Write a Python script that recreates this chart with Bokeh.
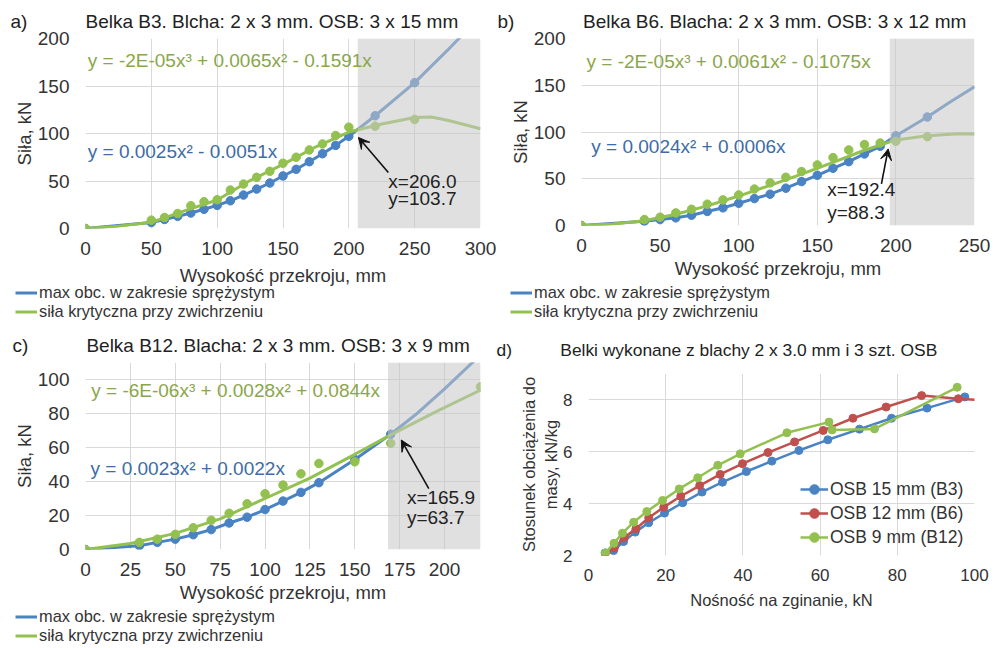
from bokeh.plotting import figure
from bokeh.models import Range1d, Label, Arrow, VeeHead, BoxAnnotation, Legend, LegendItem
from bokeh.layouts import row, column
from bokeh.embed import file_html
from bokeh.resources import INLINE

FONT = "Liberation Sans"
BLUE = "#4a83c4"
GREEN = "#93c150"
RED = "#c0504d"
BLUE_TXT = "#3d6ca6"
GREEN_TXT = "#8aa64a"
TXT = "#333333"
DARK = "#222222"
GRID = "#d9d9d9"
NB = "\u00a0"

LEG_ELASTIC = "max obc. w zakresie sprężystym"
LEG_CRITICAL = "siła krytyczna przy zwichrzeniu"
X_TITLE = "Wysokość przekroju, mm"
Y_TITLE = "Siła, kN"

# ---------------- panel a (B3) ----------------
A_TITLE = "Belka B3. Blcha: 2 x 3 mm. OSB: 3 x 15 mm"
A_H = [0, 50, 60, 70, 80, 90, 100, 110, 120, 130, 140, 150, 160, 170, 180, 190, 200, 220, 250]
A_ELASTIC = [0, 6.3, 9.5, 12.8, 16.3, 20.2, 24.3, 29.2, 35.2, 41.5, 47.9, 55.3, 62.3, 70.3, 78.7, 87.5, 97.0, 118.7, 153.5]
A_CRITICAL = [0, 8.8, 11.6, 15.8, 24.0, 28.2, 30.3, 40.5, 46.8, 53.9, 60.2, 68.7, 75.0, 82.7, 89.0, 97.9, 106.7, 107.7, 114.8]
A_ELASTIC_EXT_H = [250, 275, 300]
A_ELASTIC_EXT = [153.5, 187.7, 223.5]
A_CRITICAL_FIT_H = [0, 25, 50, 75, 100, 125, 150, 175, 200, 225, 250, 262.5, 275, 300]
A_CRITICAL_FIT = [0, 2.5, 6.5, 18.5, 30.0, 50.5, 67.5, 86.0, 101.5, 110.0, 116.8, 117.3, 114.0, 105.0]
A_EQ_CRIT = "y = -2E-05x³ + 0.0065x² - 0.1591x"
A_EQ_ELAS = "y = 0.0025x² - 0.0051x"
A_CROSS = ("x=206.0", "y=103.7")
A_SHADE = 206.8

# ---------------- panel b (B6) ----------------
B_TITLE = "Belka B6. Blacha: 2 x 3 mm. OSB: 3 x 12 mm"
B_H = [0, 40, 50, 60, 70, 80, 90, 100, 110, 120, 130, 140, 150, 160, 170, 180, 190, 200, 220]
B_ELASTIC = [0, 4.6, 6.4, 8.2, 11.0, 15.0, 18.9, 23.8, 28.8, 33.5, 39.9, 47.0, 53.7, 61.2, 68.3, 76.5, 84.7, 96.0, 116.0]
B_CRITICAL = [0, 6.4, 8.9, 13.5, 17.4, 22.8, 27.4, 32.7, 39.0, 45.6, 51.6, 57.7, 64.8, 72.6, 80.8, 86.6, 88.2, 90.0, 95.0]
B_ELASTIC_EXT_H = [220, 235, 250]
B_ELASTIC_EXT = [116.0, 132.6, 148.4]
B_CRITICAL_FIT_H = [0, 20, 40, 60, 80, 100, 120, 140, 160, 180, 200, 220, 240, 250]
B_CRITICAL_FIT = [0, 1.5, 5.0, 12.0, 21.0, 31.5, 43.0, 55.0, 67.5, 80.5, 91.5, 96.0, 98.0, 97.9]
B_EQ_CRIT = "y = -2E-05x³ + 0.0061x² - 0.1075x"
B_EQ_ELAS = "y = 0.0024x² + 0.0006x"
B_CROSS = ("x=192.4", "y=88.3")
B_SHADE = 196.1

# ---------------- panel c (B12) ----------------
C_TITLE = "Belka B12. Blacha: 2 x 3 mm. OSB: 3 x 9 mm"
C_H = [0, 30, 40, 50, 60, 70, 80, 90, 100, 110, 120, 130, 150, 170]
C_ELASTIC = [0, 2.2, 4.2, 6.1, 8.7, 11.7, 15.6, 19.0, 23.5, 28.5, 33.6, 39.3, 53.0, 67.8]
C_CRIT_H = [0, 30, 40, 50, 60, 70, 80, 90, 100, 110, 120, 130, 150, 170, 220]
C_CRITICAL = [0, 4.2, 6.1, 8.9, 12.8, 17.2, 21.3, 26.9, 32.8, 37.9, 44.5, 50.6, 51.6, 62.5, 95.7]
C_ELASTIC_EXT_H = [170, 185, 200, 220]
C_ELASTIC_EXT = [67.8, 80.3, 94.5, 114.5]
C_CRITICAL_FIT_H = [0, 25, 50, 75, 100, 125, 150, 170, 195, 220]
C_CRITICAL_FIT = [0, 3.5, 9.5, 18.0, 30.0, 42.0, 56.0, 67.4, 81.0, 93.8]
C_EQ_CRIT = "y = -6E-06x³ + 0.0028x² + 0.0844x"
C_EQ_ELAS = "y = 0.0023x² + 0.0022x"
C_CROSS = ("x=165.9", "y=63.7")
C_SHADE = 168.5

# ---------------- panel d ----------------
D_TITLE = "Belki wykonane z blachy 2 x 3.0 mm i 3 szt. OSB"
D_X_TITLE = "Nośność na zginanie, kN"
D_Y_TITLE = "Stosunek obciążenia do\nmasy, kN/kg"
D_NAMES = ["OSB 15 mm (B3)", "OSB 12 mm (B6)", "OSB 9 mm (B12)"]
D_B3_X = [4.3, 6.5, 9.1, 12.1, 15.6, 19.7, 24.4, 29.4, 34.7, 40.9, 47.5, 54.5, 62.0, 70.2, 78.5, 87.7, 97.5]
D_B3_Y = [2.10, 2.19, 2.54, 2.90, 3.26, 3.63, 4.03, 4.44, 4.82, 5.23, 5.63, 6.04, 6.45, 6.86, 7.28, 7.67, 8.10]
D_B6_X = [4.3, 6.7, 9.3, 12.3, 15.6, 19.5, 23.9, 28.8, 34.1, 39.9, 46.5, 53.4, 60.8, 68.5, 77.1, 86.3, 95.8, 116.0]
D_B6_Y = [1.94, 2.29, 2.70, 3.03, 3.45, 3.86, 4.28, 4.69, 5.12, 5.53, 5.96, 6.37, 6.81, 7.28, 7.71, 8.15, 8.03, 7.85]
D_B12_X = [4.4, 6.6, 8.8, 11.7, 15.1, 19.2, 23.5, 28.3, 33.5, 39.3, 51.4, 62.3, 63.1, 74.1, 95.5]
D_B12_Y = [2.10, 2.47, 2.86, 3.28, 3.69, 4.12, 4.56, 4.99, 5.47, 5.91, 6.72, 7.13, 6.83, 6.87, 8.47]


def base_fig(width, height, xr, yr, xticks, yticks, borders, tick_size, title_size,
             title_text, title_size_px, title_offset, title_standoff, x_std, x_lab_std):
    l, r, t, b = borders
    p = figure(width=width, height=height, x_range=Range1d(*xr), y_range=Range1d(*yr),
               output_backend="svg", toolbar_location=None, title=title_text,
               min_border_left=l, min_border_right=r, min_border_top=t, min_border_bottom=b,
               background_fill_color="white", border_fill_color="white", outline_line_color=None)
    p.title.text_font = FONT
    p.title.text_font_size = title_size_px
    p.title.text_font_style = "normal"
    p.title.text_color = DARK
    p.title.align = "left"
    p.title.offset = title_offset
    p.title.standoff = title_standoff
    p.xaxis.ticker = xticks
    p.yaxis.ticker = yticks
    for ax in (p.xaxis[0], p.yaxis[0]):
        ax.axis_line_color = None
        ax.major_tick_line_color = None
        ax.minor_tick_line_color = None
        ax.major_tick_out = 0
        ax.major_tick_in = 0
        ax.minor_tick_out = 0
        ax.minor_tick_in = 0
        ax.major_label_text_font = FONT
        ax.major_label_text_font_size = tick_size
        ax.major_label_text_color = TXT
        ax.axis_label_text_font = FONT
        ax.axis_label_text_font_size = title_size
        ax.axis_label_text_font_style = "normal"
        ax.axis_label_text_color = TXT
    p.xaxis.major_label_standoff = x_std
    p.yaxis.major_label_standoff = 16
    p.xaxis.axis_label_standoff = x_lab_std
    p.yaxis.axis_label_standoff = 0
    p.grid.grid_line_color = GRID
    p.grid.grid_line_width = 1
    return p


def text(p, x, y, s, size, color):
    p.add_layout(Label(x=x, y=y, x_units="data", y_units="data", text=s, text_font=FONT,
                       text_font_size=size, text_color=color, text_align="left",
                       text_baseline="middle"))


def beam_panel(width, height, xr, yr, xticks, yticks, borders,
               h, elastic, ext_h, ext, crit_h, crit, fit_h, fit, shade,
               title, title_offset, title_standoff, x_lab_std,
               eq_crit, eq_crit_pos, eq_elas, eq_elas_pos,
               cross, arrow, cross_pos):
    p = base_fig(width, height, xr, yr, xticks, yticks, borders, "19px", "18.5px",
                 title, "19px", title_offset, title_standoff, 13, x_lab_std)
    p.xaxis.axis_label = X_TITLE
    p.yaxis.axis_label = Y_TITLE
    p.line(list(h) + list(ext_h[1:]), list(elastic) + list(ext[1:]), line_color=BLUE, line_width=3)
    p.scatter(h, elastic, size=8.5, color=BLUE)
    p.line(fit_h, fit, line_color=GREEN, line_width=3)
    p.scatter(crit_h, crit, size=8.5, color=GREEN)
    p.add_layout(BoxAnnotation(left=shade, fill_color="#c6c6c6", fill_alpha=0.55, line_color=None))
    text(p, eq_crit_pos[0], eq_crit_pos[1], eq_crit, "19px", GREEN_TXT)
    text(p, eq_elas_pos[0], eq_elas_pos[1], eq_elas, "19px", BLUE_TXT)
    text(p, cross_pos[0], cross_pos[1], cross[0], "19px", DARK)
    text(p, cross_pos[0], cross_pos[2], cross[1], "19px", DARK)
    p.add_layout(Arrow(end=VeeHead(size=11, fill_color="#111111", line_color="#111111", line_width=1),
                       x_start=arrow[0], y_start=arrow[1], x_end=arrow[2], y_end=arrow[3],
                       line_color="#111111", line_width=1.6))
    return p


def legend_fig(width, height, entries, vy, top_margin):
    # entries: list of (x offset, elastic h, elastic values, critical h, critical values)
    f = figure(width=width, height=height, x_range=Range1d(1000, 1001), y_range=Range1d(1000, 1001),
               output_backend="svg", toolbar_location=None, x_axis_type=None, y_axis_type=None,
               min_border=0, min_border_left=0, min_border_right=0, min_border_top=0, min_border_bottom=0,
               outline_line_color=None, background_fill_alpha=0, border_fill_alpha=0,
               margin=(top_margin, 0, 0, 0))
    f.grid.visible = False
    for x0, eh, ev, ch, cv in entries:
        rb = f.line(eh, ev, line_color=BLUE, line_width=3)
        rg = f.line(ch, cv, line_color=GREEN, line_width=3)
        leg = Legend(items=[LegendItem(label=LEG_ELASTIC, renderers=[rb]),
                            LegendItem(label=LEG_CRITICAL, renderers=[rg])],
                     location=(x0, vy), orientation="vertical",
                     label_text_font=FONT, label_text_font_size="16.4px", label_text_color=TXT,
                     glyph_width=22, glyph_height=17, label_height=17, label_standoff=2,
                     spacing=0, padding=0, margin=0, border_line_color=None, background_fill_alpha=0)
        f.add_layout(leg)
    return f


pa = beam_panel(496, 298, (0, 300), (0, 200), [0, 50, 100, 150, 200, 250, 300], [0, 50, 100, 150, 200],
                (85, 16, 38, 70),
                A_H, A_ELASTIC, A_ELASTIC_EXT_H, A_ELASTIC_EXT, A_H, A_CRITICAL, A_CRITICAL_FIT_H, A_CRITICAL_FIT,
                A_SHADE, "a)" + NB * 11 + A_TITLE, -75, 14, 7,
                A_EQ_CRIT, (1.7, 177), A_EQ_ELAS, (1.7, 81.4),
                A_CROSS, (230, 59, 207.3, 95.8), (230, 49.5, 31.6))

pb = beam_panel(507, 298, (0, 250), (0, 200), [0, 50, 100, 150, 200, 250], [0, 50, 100, 150, 200],
                (85, 29, 38, 73),
                B_H, B_ELASTIC, B_ELASTIC_EXT_H, B_ELASTIC_EXT, B_H, B_CRITICAL, B_CRITICAL_FIT_H, B_CRITICAL_FIT,
                B_SHADE, "b)" + NB * 13 + B_TITLE, -84, 14, 3,
                B_EQ_CRIT, (3.2, 175), B_EQ_ELAS, (6.2, 84.3),
                B_CROSS, (190.8, 44.5, 195.1, 81.9), (156.3, 38.4, 14.2))

lab = legend_fig(1003, 37, [(15, A_H, A_ELASTIC, A_H, A_CRITICAL),
                            (510, B_H, B_ELASTIC, B_H, B_CRITICAL)], 1, -13)

pc = beam_panel(496, 297, (0, 220), (0, 110), [0, 25, 50, 75, 100, 125, 150, 175, 200], [0, 20, 40, 60, 80, 100],
                (85, 16, 40, 70),
                C_H, C_ELASTIC, C_ELASTIC_EXT_H, C_ELASTIC_EXT, C_CRIT_H, C_CRITICAL, C_CRITICAL_FIT_H, C_CRITICAL_FIT,
                C_SHADE, "c)" + NB * 11 + C_TITLE, -73, 14, 3,
                C_EQ_CRIT, (3.2, 93.5), C_EQ_ELAS, (2.8, 47.7),
                C_CROSS, (191.2, 35.8, 175.9, 64.4), (179, 30.8, 19.0))

lc = legend_fig(496, 37, [(15, C_H, C_ELASTIC, C_CRIT_H, C_CRITICAL)], 1, -10)

# panel d
pd_ = base_fig(507, 326, (0, 100), (2, 9), [0, 20, 40, 60, 80, 100], [2, 4, 6, 8],
               (92, 29, 51, 93), "17px", "16.5px",
               "d)" + NB * 10 + D_TITLE, "17.4px", -92, 27, 13, 7)
pd_.xaxis.axis_label = D_X_TITLE
pd_.yaxis.axis_label = D_Y_TITLE
items = []
for name, xs, ys, col in zip(D_NAMES, [D_B3_X, D_B6_X, D_B12_X], [D_B3_Y, D_B6_Y, D_B12_Y], [BLUE, RED, GREEN]):
    rl = pd_.line(xs, ys, line_color=col, line_width=2.5)
    rs = pd_.scatter(xs, ys, size=8, color=col)
    items.append(LegendItem(label=name, renderers=[rl, rs]))
legd = Legend(items=items, location=(212, 6), orientation="vertical",
              label_text_font=FONT, label_text_font_size="17.5px", label_text_color=TXT,
              glyph_width=28, glyph_height=24, label_height=24, label_standoff=2,
              spacing=0, padding=0, margin=0, border_line_color=None, background_fill_alpha=0)
pd_.add_layout(legd)

layout = column(row(column(pa), column(pb)), lab,
                row(column(column(pc), row(lc)), column(pd_)))
open("out.html", "w").write(file_html(layout, INLINE))
